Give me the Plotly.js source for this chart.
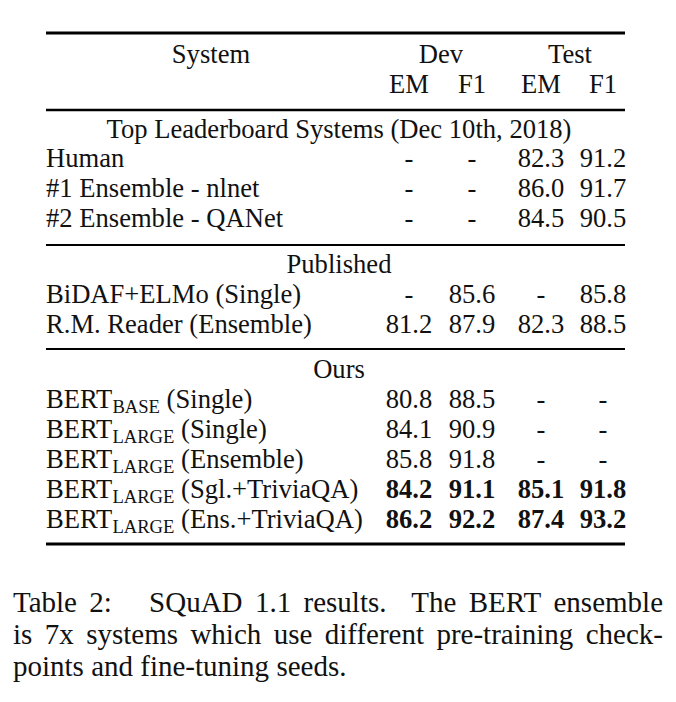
<!DOCTYPE html>
<html>
<head>
<meta charset="utf-8">
<script src="https://cdn.plot.ly/plotly-3.0.1.min.js"></script>
<style>
  body { margin: 0; background: #fff; }
  #table { width: 676px; height: 702px; }
</style>
</head>
<body>
<div id="table"></div>
<script>
// table contents
const headerGroups = ['Dev', 'Test'];
const metricLabels = ['EM', 'F1', 'EM', 'F1'];
const sectionTitles = ['Top Leaderboard Systems (Dec 10th, 2018)', 'Published', 'Ours'];

const leaderboardSystems = ['Human', '#1 Ensemble - nlnet', '#2 Ensemble - QANet'];
const leaderboardScores = [
  [null, null, 82.3, 91.2],
  [null, null, 86.0, 91.7],
  [null, null, 84.5, 90.5]
];

const publishedSystems = ['BiDAF+ELMo (Single)', 'R.M. Reader (Ensemble)'];
const publishedScores = [
  [null, 85.6, null, 85.8],
  [81.2, 87.9, 82.3, 88.5]
];

const oursSystems = [
  'BERT<sub>BASE</sub> (Single)',
  'BERT<sub>LARGE</sub> (Single)',
  'BERT<sub>LARGE</sub> (Ensemble)',
  'BERT<sub>LARGE</sub> (Sgl.+TriviaQA)',
  'BERT<sub>LARGE</sub> (Ens.+TriviaQA)'
];
const oursScores = [
  [80.8, 88.5, null, null],
  [84.1, 90.9, null, null],
  [85.8, 91.8, null, null],
  [84.2, 91.1, 85.1, 91.8],
  [86.2, 92.2, 87.4, 93.2]
];
const oursBold = [false, false, false, true, true];

const captionLines = [
  'Table 2:   SQuAD 1.1 results.  The BERT ensemble',
  'is 7x systems which use different pre-training check-',
  'points and fine-tuning seeds.'
];

// layout (pixels, the axes map 1:1 onto the page)
const W = 676, H = 702;
const FONT = 'Liberation Serif, Times New Roman, serif';
const TABLE_SIZE = 26.6;
const CAPTION_SIZE = 29;
const INK = '#111';
const ruleLeft = 46, ruleRight = 625;
const labelX = 46;
const colX = [409, 472, 541, 603];
const groupX = [441, 570];
const systemX = 211;
const rowStep = 30;

const sections = [
  { title: sectionTitles[0], titleY: 131, firstRowY: 160, names: leaderboardSystems, scores: leaderboardScores, bold: [false, false, false] },
  { title: sectionTitles[1], titleY: 266, firstRowY: 296, names: publishedSystems, scores: publishedScores, bold: [false, false] },
  { title: sectionTitles[2], titleY: 371, firstRowY: 401, names: oursSystems, scores: oursScores, bold: oursBold }
];

const rules = [
  { y: 33, w: 3.2 },
  { y: 110, w: 2.4 },
  { y: 245, w: 2 },
  { y: 349, w: 2 },
  { y: 544, w: 3.2 }
];

function fmt(v, bold) {
  const s = v === null ? '-' : v.toFixed(1);
  return bold && v !== null ? '<b>' + s + '</b>' : s;
}

const centerX = [], centerY = [], centerText = [];
const leftX = [], leftY = [], leftText = [];

// header
centerX.push(systemX); centerY.push(56); centerText.push('System');
headerGroups.forEach((g, i) => { centerX.push(groupX[i]); centerY.push(56); centerText.push(g); });
metricLabels.forEach((m, i) => { centerX.push(colX[i]); centerY.push(86); centerText.push(m); });

// body
sections.forEach(sec => {
  centerX.push(339);
  centerY.push(sec.titleY);
  centerText.push(sec.title);
  sec.names.forEach((name, r) => {
    const y = sec.firstRowY + r * rowStep;
    leftX.push(labelX); leftY.push(y); leftText.push(name);
    sec.scores[r].forEach((v, c) => {
      centerX.push(colX[c]); centerY.push(y); centerText.push(fmt(v, sec.bold[r]));
    });
  });
});

// caption, justified by measuring the words
const ctx = document.createElement('canvas').getContext('2d');
ctx.font = CAPTION_SIZE + 'px "Liberation Serif"';
const capLeft = 13, capRight = 663, capTop = 605, capStep = 32;
const capX = [], capY = [], capText = [];
captionLines.forEach((line, li) => {
  const parts = line.split(' ');
  const words = [], gaps = [];
  let pending = 0;
  parts.forEach(p => {
    if (p === '') { pending++; return; }
    if (words.length) gaps.push(1 + pending);
    pending = 0;
    words.push(p);
  });
  const widths = words.map(w => ctx.measureText(w).width);
  const spaceW = ctx.measureText(' ').width;
  const last = li === captionLines.length - 1;
  const totalGap = gaps.reduce((a, b) => a + b, 0);
  const free = capRight - capLeft - widths.reduce((a, b) => a + b, 0);
  let x = capLeft;
  words.forEach((w, i) => {
    capX.push(x); capY.push(capTop + li * capStep); capText.push(w);
    if (i < gaps.length) {
      x += widths[i] + (last ? gaps[i] * spaceW : free * gaps[i] / totalGap);
    }
  });
});

const traces = [
  {
    x: centerX, y: centerY, text: centerText,
    type: 'scatter', mode: 'text', textposition: 'middle center',
    textfont: { family: FONT, size: TABLE_SIZE, color: INK },
    hoverinfo: 'skip', showlegend: false
  },
  {
    x: leftX, y: leftY, text: leftText,
    type: 'scatter', mode: 'text', textposition: 'middle right',
    textfont: { family: FONT, size: TABLE_SIZE, color: INK },
    hoverinfo: 'skip', showlegend: false
  },
  {
    x: capX, y: capY, text: capText,
    type: 'scatter', mode: 'text', textposition: 'middle right',
    textfont: { family: FONT, size: CAPTION_SIZE, color: INK },
    hoverinfo: 'skip', showlegend: false
  }
];

const shapes = rules.map(r => ({
  type: 'line', xref: 'x', yref: 'y',
  x0: ruleLeft, x1: ruleRight, y0: r.y, y1: r.y,
  line: { color: '#000', width: r.w }
}));

const layout = {
  width: W, height: H,
  margin: { l: 0, r: 0, t: 0, b: 0 },
  paper_bgcolor: '#fff', plot_bgcolor: '#fff',
  xaxis: { range: [0, W], visible: false, fixedrange: true },
  yaxis: { range: [H, 0], visible: false, fixedrange: true },
  shapes: shapes,
  showlegend: false
};

Plotly.newPlot('table', traces, layout, { displayModeBar: false, staticPlot: true });
</script>
</body>
</html>
